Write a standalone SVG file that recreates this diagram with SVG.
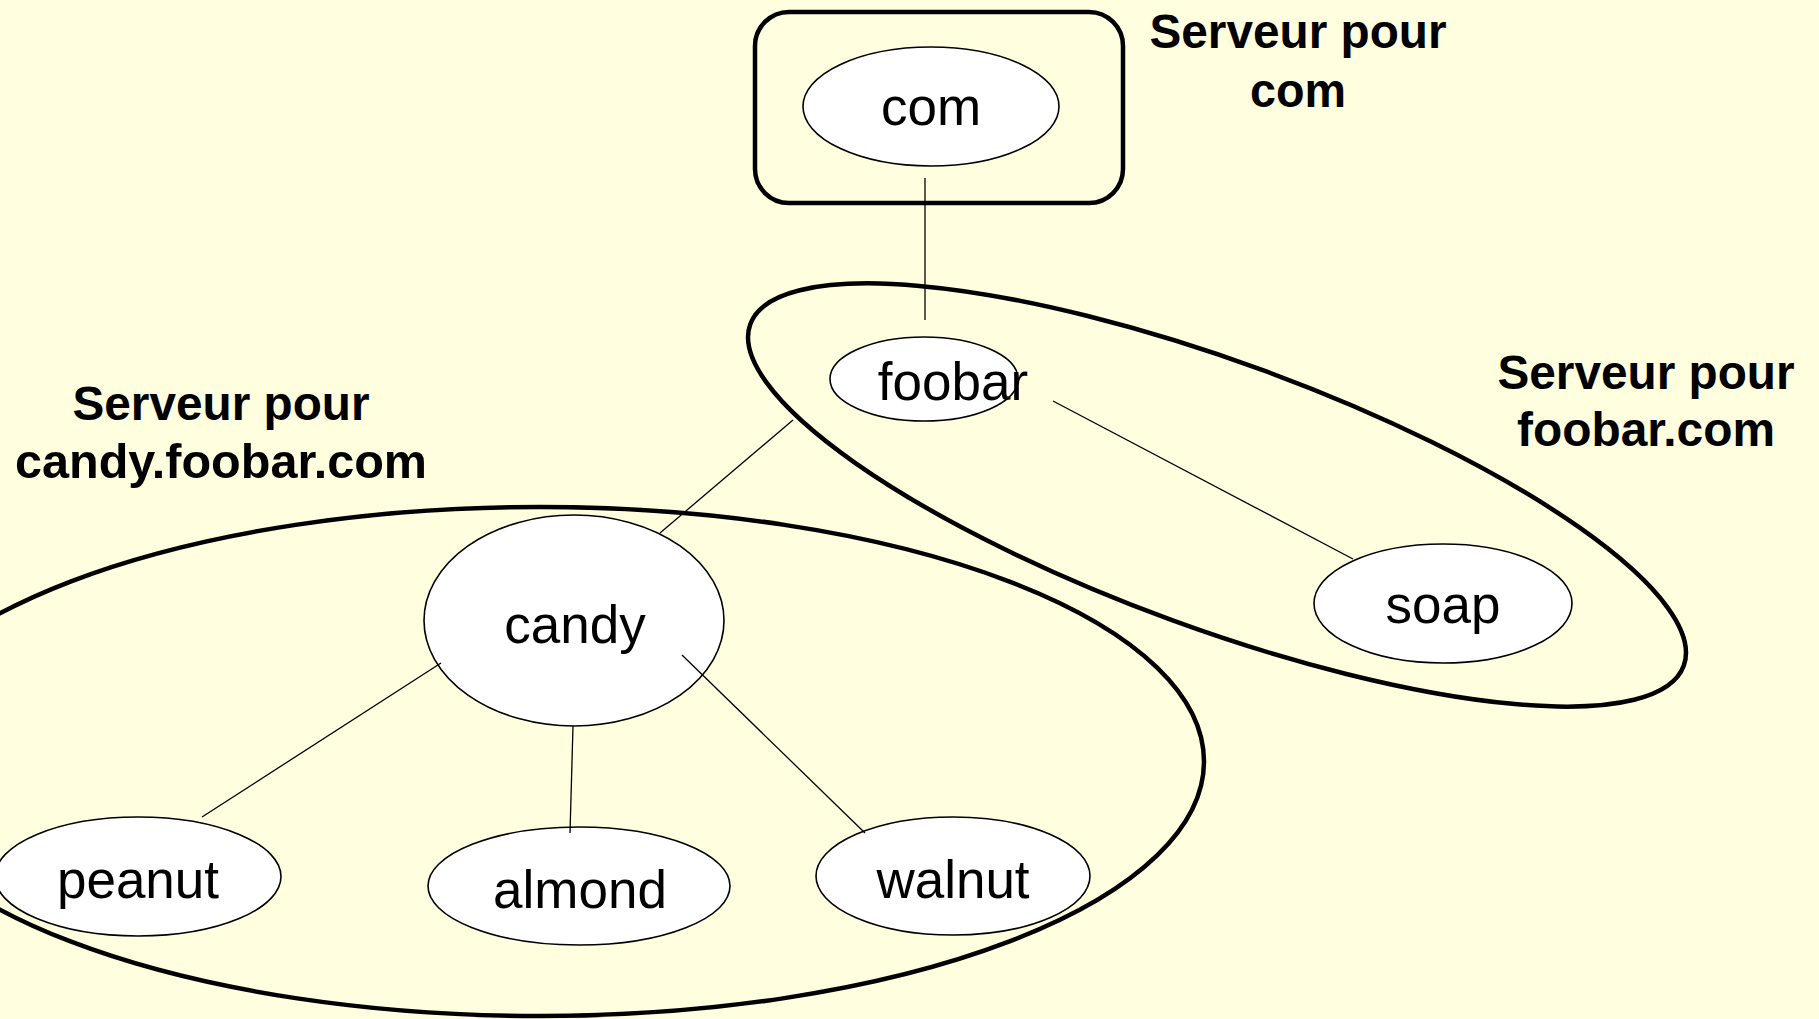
<svg xmlns="http://www.w3.org/2000/svg" width="1819" height="1019" viewBox="0 0 1819 1019">
  <style>
    .zone { fill: none; stroke: #000; stroke-width: 4.5; }
    .node ellipse { fill: #fff; stroke: #000; stroke-width: 1.6; }
    .node text { font-family: "Liberation Sans", Arial, Helvetica, sans-serif; font-size: 53px; text-anchor: middle; fill: #000; }
    .label { font-family: "Liberation Sans", Arial, Helvetica, sans-serif; font-size: 48px; font-weight: bold; text-anchor: middle; fill: #000; }
    #connectors line { stroke: #000; stroke-width: 1.3; }
  </style>
  <rect width="1819" height="1019" fill="#ffffe0"/>

  <!-- server zones -->
  <g id="zone-com">
    <rect class="zone" x="755" y="12" width="368" height="191" rx="34" ry="34"/>
  </g>
  <g id="zone-foobar">
    <ellipse class="zone" cx="1217" cy="495" rx="497" ry="133" transform="rotate(20.1 1217 495)"/>
  </g>
  <g id="zone-candy">
    <ellipse class="zone" cx="540" cy="761.5" rx="664" ry="254.5"/>
  </g>

  <!-- zone captions -->
  <g id="label-com">
    <text class="label" x="1298" y="48" textLength="297" lengthAdjust="spacingAndGlyphs">Serveur pour</text>
    <text class="label" x="1298" y="107" textLength="96" lengthAdjust="spacingAndGlyphs">com</text>
  </g>
  <g id="label-foobar">
    <text class="label" x="1646" y="389" textLength="297" lengthAdjust="spacingAndGlyphs">Serveur pour</text>
    <text class="label" x="1646" y="446" textLength="258" lengthAdjust="spacingAndGlyphs">foobar.com</text>
  </g>
  <g id="label-candy">
    <text class="label" x="221" y="420" textLength="297" lengthAdjust="spacingAndGlyphs">Serveur pour</text>
    <text class="label" x="221" y="478" textLength="412" lengthAdjust="spacingAndGlyphs">candy.foobar.com</text>
  </g>

  <!-- domain nodes -->
  <g id="node-com" class="node">
    <ellipse cx="931" cy="106.5" rx="128" ry="59.5"/>
    <text x="931" y="125">com</text>
  </g>
  <g id="node-foobar" class="node">
    <ellipse cx="924" cy="379" rx="94" ry="42"/>
    <text x="953" y="400">foobar</text>
  </g>
  <g id="node-soap" class="node">
    <ellipse cx="1443" cy="603.5" rx="129" ry="59.5"/>
    <text x="1443" y="623">soap</text>
  </g>
  <g id="node-candy" class="node">
    <ellipse cx="574" cy="620.5" rx="150" ry="105.5"/>
    <text x="575" y="643">candy</text>
  </g>
  <g id="node-peanut" class="node">
    <ellipse cx="138" cy="876.5" rx="143" ry="59.5"/>
    <text x="138" y="898">peanut</text>
  </g>
  <g id="node-almond" class="node">
    <ellipse cx="579" cy="886" rx="151" ry="59"/>
    <text x="580" y="908">almond</text>
  </g>
  <g id="node-walnut" class="node">
    <ellipse cx="953" cy="876" rx="137" ry="59"/>
    <text x="953" y="898">walnut</text>
  </g>

  <!-- tree edges, drawn over the nodes -->
  <g id="connectors">
    <line x1="925" y1="178" x2="925" y2="320"/>
    <line x1="1053" y1="401" x2="1353" y2="559"/>
    <line x1="793" y1="420" x2="660" y2="533"/>
    <line x1="441" y1="663" x2="202" y2="817"/>
    <line x1="573" y1="726" x2="570" y2="833"/>
    <line x1="682" y1="655" x2="865" y2="833"/>
  </g>
</svg>
